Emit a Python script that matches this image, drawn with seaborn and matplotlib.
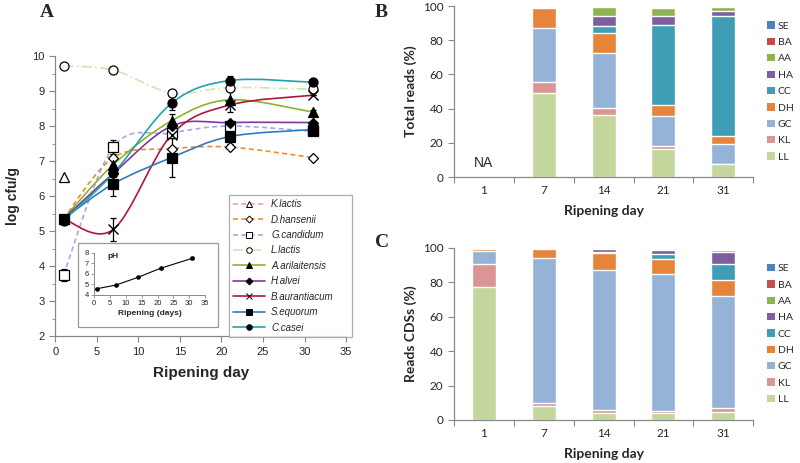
import numpy as np
import pandas as pd
import seaborn as sns
import matplotlib
matplotlib.use("Agg")
import matplotlib.pyplot as plt
from matplotlib.path import Path
from matplotlib.patches import PathPatch, Rectangle, Patch
from matplotlib.lines import Line2D

nan = np.nan

# ---- Panel A: plate counts (log cfu/g) ----
days_a = [1, 7, 14, 21, 31]
k_lactis = [6.55, nan, nan, nan, nan]
d_hansenii = [5.35, 7.1, 7.35, 7.4, 7.1]
g_candidum = [3.75, 7.4, 7.8, 8.0, 7.85]
l_lactis = [9.72, 9.6, 8.95, 9.1, 9.05]
a_arilaitensis = [5.35, 6.9, 8.15, 8.75, 8.4]
h_alvei = [5.35, 6.65, 8.0, 8.1, 8.1]
b_aurantiacum = [5.35, 5.05, 7.75, 8.6, 8.88]
s_equorum = [5.35, 6.35, 7.1, 7.7, 7.9]
c_casei = [5.3, 6.65, 8.65, 9.3, 9.25]

g_candidum_err = [0.18, 0.2, 0, 0, 0]
b_aurantiacum_err = [0, 0.33, 0, 0, 0]
a_arilaitensis_err = [0, 0, 0.2, 0.35, 0.05]
s_equorum_err = [0.12, 0.35, 0.55, 0.2, 0.1]
c_casei_err = [0.1, 0.1, 0.2, 0.12, 0.1]

# inset pH
ph_days = [1, 7, 14, 21, 31]
ph_values = [4.6, 4.95, 5.7, 6.55, 7.5]
ph_err = [0.03, 0.03, 0.03, 0.03, 0.08]

# ---- Panels B and C: relative abundance (%) ----
bar_days = ["1", "7", "14", "21", "31"]
species_codes = ["LL", "KL", "GC", "DH", "CC", "HA", "AA", "BA", "SE"]

total_reads = {
    "LL": [0, 49.3, 36.5, 16.5, 7.4],
    "KL": [0, 6.2, 4.0, 1.6, 0.4],
    "GC": [0, 31.6, 32.0, 17.4, 11.7],
    "DH": [0, 12.0, 12.0, 6.4, 4.3],
    "CC": [0, 0.2, 3.6, 47.1, 70.7],
    "HA": [0, 0.1, 6.4, 5.4, 2.5],
    "AA": [0, 0.4, 4.8, 4.6, 2.3],
    "BA": [0, 0.1, 0.4, 0.7, 0.5],
    "SE": [0, 0.1, 0.3, 0.3, 0.2],
}

reads_cds = {
    "LL": [77.4, 8.0, 4.1, 3.8, 4.5],
    "KL": [13.3, 2.1, 1.9, 1.7, 2.5],
    "GC": [7.7, 83.9, 81.2, 79.5, 65.0],
    "DH": [1.1, 5.6, 9.9, 8.6, 9.1],
    "CC": [0.1, 0.1, 0.5, 2.7, 9.6],
    "HA": [0.1, 0.2, 1.8, 2.3, 7.0],
    "AA": [0.1, 0.0, 0.3, 0.7, 1.2],
    "BA": [0.1, 0.0, 0.2, 0.6, 0.7],
    "SE": [0.1, 0.1, 0.1, 0.1, 0.4],
}

bar_colors = {
    "LL": "#c3d69b", "KL": "#d99694", "GC": "#95b3d7", "DH": "#e5843a",
    "CC": "#3f9db5", "HA": "#7d5f9f", "AA": "#8fb252", "BA": "#c0504d",
    "SE": "#4f81bd",
}


def smooth_path(x, y):
    # Excel-style smoothed line: cubic Bezier through the data points
    pts = [(a, b) for a, b in zip(x, y) if not np.isnan(b)]
    verts = [pts[0]]
    codes = [Path.MOVETO]
    n = len(pts)
    for i in range(n - 1):
        p0 = np.array(pts[max(i - 1, 0)])
        p1 = np.array(pts[i])
        p2 = np.array(pts[i + 1])
        p3 = np.array(pts[min(i + 2, n - 1)])
        c1 = p1 + (p2 - p0) / 6.0
        c2 = p2 - (p3 - p1) / 6.0
        verts += [tuple(c1), tuple(c2), tuple(p2)]
        codes += [Path.CURVE4] * 3
    return Path(verts, codes)


sns.set_style("ticks")
plt.rcParams["font.family"] = ["Liberation Sans", "DejaVu Sans"]

fig = plt.figure(figsize=(8, 4.63), dpi=100)

# ================= Panel A =================
ax = fig.add_axes([0.069, 0.274, 0.3636, 0.605])

series = [
    ("K.lactis", k_lactis, None, "#eaa0a0", (0, (3, 2)), "^", "white"),
    ("D.hansenii", d_hansenii, None, "#f08a30", (0, (3, 2)), "D", "white"),
    ("G.candidum", g_candidum, g_candidum_err, "#a7a7e6", (0, (3, 2)), "s", "white"),
    ("L.lactis", l_lactis, None, "#d4e2b4", (0, (6, 2, 1, 2)), "o", "white"),
    ("A.arilaitensis", a_arilaitensis, a_arilaitensis_err, "#8cb42a", "-", "^", "black"),
    ("H.alvei", h_alvei, None, "#7b3a9c", "-", "D", "black"),
    ("B.aurantiacum", b_aurantiacum, b_aurantiacum_err, "#b0163c", "-", "x", "black"),
    ("S.equorum", s_equorum, s_equorum_err, "#2f7bc0", "-", "s", "black"),
    ("C.casei", c_casei, c_casei_err, "#22a2aa", "-", "o", "black"),
]

handles = []
for name, vals, err, col, ls, mk, face in series:
    valid = [v for v in vals if not np.isnan(v)]
    if len(valid) > 1:
        ax.add_patch(PathPatch(smooth_path(days_a, vals), fill=False,
                               edgecolor=col, lw=1.2, linestyle=ls, zorder=2))
    if err is not None:
        ax.errorbar(days_a, vals, yerr=err, fmt="none", ecolor="black",
                    elinewidth=0.9, capsize=2.5, capthick=0.9, zorder=3)
    msize = 5 if mk == "D" else 6.5
    if mk == "x":
        ax.plot(days_a, vals, linestyle="none", marker="x", markersize=7,
                markeredgecolor="black", markeredgewidth=1.0, zorder=4)
    else:
        ax.plot(days_a, vals, linestyle="none", marker=mk, markersize=msize,
                markerfacecolor=face, markeredgecolor="black",
                markeredgewidth=0.9, zorder=4)
    handles.append(Line2D([0], [0], color=col, lw=1.2, linestyle=ls,
                          marker=mk, markersize=4 if mk != "D" else 3.5,
                          markerfacecolor=face, markeredgecolor="black",
                          markeredgewidth=0.7, label=name))

ax.set_xlim(0, 35)
ax.set_ylim(2, 10)
ax.set_xticks(range(0, 36, 5))
ax.set_yticks(range(2, 11))
ax.set_yticks(np.arange(2, 10.01, 0.5), minor=True)
ax.tick_params(axis="both", which="major", labelsize=8, color="#888888",
               length=4, width=0.8, direction="out")
ax.tick_params(axis="y", which="minor", color="#888888", length=2.5, width=0.6)
for s in ["left", "bottom"]:
    ax.spines[s].set_color("#888888")
    ax.spines[s].set_linewidth(0.9)
sns.despine(ax=ax)
ax.set_xlabel("Ripening day", fontsize=11, fontweight="bold", labelpad=7)
ax.set_ylabel("log cfu/g", fontsize=10, fontweight="bold", labelpad=9)

leg = fig.legend(handles=handles, loc="upper left",
                 bbox_to_anchor=(0.28, 0.283, 0.166, 0.307),
                 bbox_transform=fig.transFigure, mode="expand",
                 prop={"style": "italic", "size": 7}, frameon=True,
                 fancybox=False, edgecolor="#999999", handlelength=3.3,
                 labelspacing=0.56, borderpad=0.45, handletextpad=0.6)
leg.get_frame().set_linewidth(0.9)

# inset box and pH axes
fig.patches.append(Rectangle((0.0975, 0.2937), 0.175, 0.181,
                             transform=fig.transFigure, fill=True,
                             facecolor="white", edgecolor="#999999",
                             lw=0.9, zorder=5))
axi = fig.add_axes([0.1175, 0.3629, 0.139, 0.0907])
axi.set_zorder(6)
ph_df = pd.DataFrame({"day": ph_days, "pH": ph_values})
sns.lineplot(data=ph_df, x="day", y="pH", ax=axi, color="black", lw=0.8,
             marker="o", markersize=2.5, markeredgecolor="black")
axi.errorbar(ph_days, ph_values, yerr=ph_err, fmt="none", ecolor="black",
             elinewidth=0.6, capsize=1.5)
axi.set_xlim(0, 35)
axi.set_ylim(4, 8)
axi.set_xticks(range(0, 36, 5))
axi.set_yticks(range(4, 9))
axi.tick_params(labelsize=5.5, length=2, width=0.6, color="#888888", pad=1.5)
for s in ["left", "bottom"]:
    axi.spines[s].set_color("#888888")
    axi.spines[s].set_linewidth(0.7)
sns.despine(ax=axi)
axi.set_xlabel("Ripening (days)", fontsize=6, fontweight="bold", labelpad=2)
axi.set_ylabel("")
axi.text(0.12, 0.92, "pH", transform=axi.transAxes, fontsize=6,
         fontweight="bold", va="center")

# ================= Panels B and C =================
def stacked(ax, data, ylabel):
    cum = np.zeros(len(bar_days))
    cums = {}
    for code in species_codes:
        cum = cum + np.array(data[code])
        cums[code] = cum.copy()
    for code in species_codes[::-1]:
        df = pd.DataFrame({"day": bar_days, "value": cums[code]})
        sns.barplot(data=df, x="day", y="value", order=bar_days,
                    color=bar_colors[code], saturation=1, width=0.4,
                    errorbar=None, ax=ax)
    ax.set_xlim(-0.5, 4.5)
    ax.set_ylim(0, 100)
    ax.set_yticks(range(0, 101, 20))
    ax.set_xticks(np.arange(-0.5, 4.6, 1.0))
    ax.set_xticklabels([])
    ax.set_xticks(range(5), minor=True)
    ax.set_xticklabels(bar_days, minor=True)
    ax.tick_params(axis="x", which="major", length=4, color="#888888", width=0.8)
    ax.tick_params(axis="x", which="minor", length=0, labelsize=8.5, pad=6)
    ax.tick_params(axis="y", labelsize=8.5, length=4, color="#888888", width=0.8)
    for s in ["left", "bottom"]:
        ax.spines[s].set_color("#888888")
        ax.spines[s].set_linewidth(0.9)
    sns.despine(ax=ax)
    ax.set_xlabel("Ripening day", fontsize=10, fontweight="bold", labelpad=6)
    ax.set_ylabel(ylabel, fontsize=10, fontweight="bold", labelpad=4)
    lh = [Patch(facecolor=bar_colors[c], edgecolor="none", label=c)
          for c in species_codes[::-1]]
    ax.legend(handles=lh, loc="center left", bbox_to_anchor=(1.04, 0.5),
              frameon=False, fontsize=7.5, handlelength=0.7, handleheight=0.7,
              handletextpad=0.3, labelspacing=0.68, borderaxespad=0,
              borderpad=0.2)


axb = fig.add_axes([0.5675, 0.6177, 0.374, 0.369])
stacked(axb, total_reads, "Total reads (%)")
axb.text(0, 8, "NA", ha="center", va="center", fontsize=10)

axc = fig.add_axes([0.5675, 0.0929, 0.374, 0.3715])
stacked(axc, reads_cds, "Reads CDSs (%)")

for ax_ in (axb, axc):
    for lab in ax_.get_xticklabels(minor=True) + ax_.get_yticklabels():
        lab.set_family(["Lato", "DejaVu Sans"])
    ax_.xaxis.label.set_family(["Lato", "DejaVu Sans"])
    ax_.yaxis.label.set_family(["Lato", "DejaVu Sans"])
    for t in ax_.get_legend().get_texts():
        t.set_family(["Lato", "DejaVu Sans"])

# panel letters
for letter, x, y in [("A", 0.058, 0.972), ("B", 0.476, 0.972), ("C", 0.478, 0.477)]:
    fig.text(x, y, letter, fontsize=14, fontweight="bold",
             family=["Liberation Serif", "DejaVu Serif"], ha="center", va="center")

fig.savefig("out.png", dpi=100)
